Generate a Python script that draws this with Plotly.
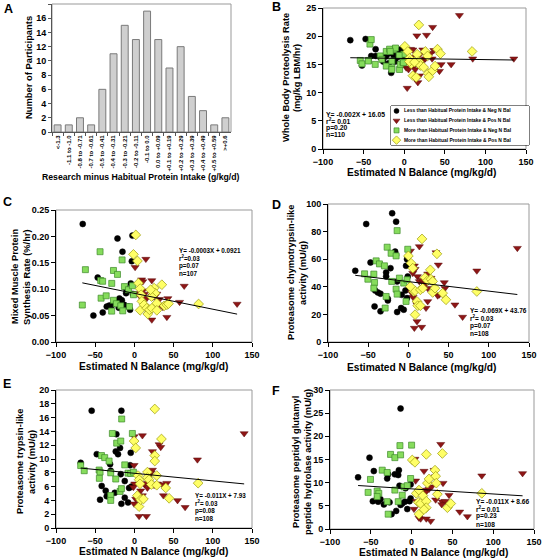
import plotly.graph_objects as go

W, H = 542, 559
FONT = "Liberation Sans, Arial, sans-serif"

# ---------------- Panel A data ----------------
hist_categories = ["<-1.3", "-1.1 to -1.0", "-0.8 to -0.71", "-0.7 to -0.61", "-0.5 to -0.41",
                   "-0.4 to -0.31", "-0.3 to -0.21", "-0.2 to -0.11", "-0.1 to 0.0", "0.0 to +0.09",
                   "+0.1 to +0.19", "+0.2 to +0.29", "+0.3 to +0.39", "+0.4 to +0.49", "+0.5 to +0.59", ">+0.6"]
hist_counts = [1, 1, 2, 1, 6, 11, 15, 13, 17, 13, 9, 12, 5, 3, 1, 2]

group_names = [
    "Less than Habitual Protein Intake & Neg N Bal",
    "Less than Habitual Protein Intake & Pos N Bal",
    "More than Habitual Protein Intake & Neg N Bal",
    "More than Habitual Protein Intake & Pos N Bal",
]

# ---------------- Panel B: whole body proteolysis ----------------
b_less_neg = [(-66.4, 19.3), (-47.5, 19.5), (-52, 14.8), (-40.6, 16.5), (-35.2, 17.7), (-35, 16.5),
              (-29, 16.2), (-25.8, 15.5), (-22.5, 16.4), (-20, 16.9), (-19, 15.2), (-16, 13.5), (-15, 17.0),
              (-11, 15.5), (-7.8, 16.3), (-5.7, 17.3), (-3.7, 17.7), (-2.5, 16.8), (-1.6, 16.4),
              (-9, 17.0), (-13, 16.6)]
b_less_pos = [(68, 23.7), (27.5, 20.2), (35, 21.6), (3.7, 10.8), (16.8, 11.8), (18.8, 13.0), (57.8, 15.0),
              (43.4, 13.8), (45.5, 15.0), (84.4, 16.0), (135, 16.0), (2.5, 14.4), (5.3, 14.1), (7.8, 17.7),
              (10.6, 17.6), (12, 14.7), (13.5, 14.1), (22.9, 17.6), (24, 15.8), (26, 16.0), (33, 17.0),
              (36.5, 17.5), (34.4, 16.0), (9, 16.3), (-0.4, 15.0), (15.6, 20.1), (19, 16.7)]
b_more_neg = [(-54.1, 15.7), (-52, 15.1), (-43.9, 15.7), (-42.2, 18.6), (-40.6, 19.4), (-35.7, 15.0),
              (-29.5, 16.5), (-22.1, 14.7), (-22.1, 17.3), (-15.2, 14.4), (-15.2, 14.1), (-12.7, 17.6),
              (-5.7, 14.1), (-4.9, 15.0), (-10.7, 17.9), (-18, 17.7), (-1.6, 15.4), (-0.4, 16.8),
              (-44.3, 15.6), (-27.5, 15.9), (-17.2, 17.3), (-15.2, 15.6), (-6.2, 16.6), (-0.9, 15.3)]
b_more_pos = [(18, 22.0), (0.8, 18.2), (4.5, 17.3), (6.5, 16.1), (8.6, 15.1), (10.7, 13.0), (14.8, 12.7),
              (16, 16.8), (18, 15.5), (20, 14.8), (24, 14.5), (26, 17.3), (28.8, 16.5), (29.5, 13.4),
              (30.3, 12.8), (35, 13.9), (38, 14.7), (41, 17.7), (44.7, 16.9), (83.6, 17.3), (6.5, 15.5),
              (12.7, 15.4)]

# ---------------- Panel C: muscle protein synthesis ----------------
c_less_neg = [(-65.9, 0.2235), (-21.6, 0.196), (-15.2, 0.171), (-2.5, 0.2015), (-46.8, 0.122), (-3.3, 0.153),
              (-52.3, 0.050), (-40.4, 0.056), (-35.3, 0.067), (-32, 0.069), (-28.9, 0.069), (-24.6, 0.075),
              (-19.1, 0.0825), (-16, 0.079), (-13.1, 0.0705), (-10.6, 0.0925), (-7.6, 0.067), (-5.5, 0.061),
              (-4.6, 0.111), (-2, 0.091), (-11, 0.102), (-20, 0.065)]
c_less_pos = [(0.9, 0.1415), (9.2, 0.118), (14.6, 0.157), (10.7, 0.1145), (22.2, 0.1165), (4.1, 0.0925),
              (7.3, 0.086), (12.9, 0.091), (15.8, 0.083), (22.2, 0.0875), (23.5, 0.085), (25.2, 0.086),
              (28.6, 0.091), (32, 0.081), (36.3, 0.066), (42.7, 0.0825), (57.6, 0.0755), (35.3, 0.069),
              (33.2, 0.070), (63.5, 0.106), (22.2, 0.042), (41.4, 0.047), (131, 0.072), (10.7, 0.097)]
c_more_neg = [(-66.4, 0.070), (-62.5, 0.137), (-43.8, 0.171), (-43, 0.1165), (-40.5, 0.115), (-42.5, 0.083),
              (-36, 0.0875), (-28.9, 0.111), (-26.7, 0.1355), (-21.6, 0.128), (-26.7, 0.079), (-29, 0.0585),
              (-23, 0.0725), (-15.7, 0.1555), (-12.7, 0.105), (-17.4, 0.0685), (-14.9, 0.059), (-7.6, 0.099),
              (-6.3, 0.067), (-2.5, 0.1065), (-1.2, 0.0895)]
c_more_pos = [(1.8, 0.2028), (-1.2, 0.166), (3.9, 0.1535), (5.2, 0.1115), (7.3, 0.101), (8.5, 0.0895),
              (9.5, 0.077), (7.3, 0.060), (12.4, 0.0705), (15.8, 0.064), (17.1, 0.053), (19.2, 0.061),
              (22.4, 0.064), (25.2, 0.102), (26.4, 0.0925), (28.6, 0.0735), (28.6, 0.060), (35, 0.1085),
              (38, 0.0685), (41.4, 0.0705), (43.5, 0.0725), (81.9, 0.072), (21.9, 0.086), (20.6, 0.099)]

# ---------------- Panel D: chymotrypsin-like ----------------
d_less_neg = [(-66.1, 51.6), (-52.5, 85.5), (-47.1, 57.6), (-41.3, 37.3), (-38, 35.9), (-34.7, 35),
              (-42.1, 25.8), (-34.7, 22.2), (-27.7, 47.5), (-27.7, 50.4), (-25.6, 31.3), (-25.6, 30.1),
              (-22.3, 53.5), (-20.2, 93.3), (-15.3, 87.2), (-16.5, 65.5), (-15.3, 63), (-14, 43.9),
              (-14, 21.7), (-9.1, 24.6), (-5.8, 23.4), (-2.9, 55.2), (-1.7, 60), (-0.8, 47.5), (-3.7, 37.3),
              (-1.7, 31.8), (-8.3, 34.2)]
d_less_pos = [(2.5, 66), (13.6, 69.2), (34.3, 64.8), (37.2, 55.9), (7.4, 55.2), (8.3, 52.8), (5.4, 49.9),
              (11.2, 47.5), (13.6, 43.9), (16.5, 45), (19, 42.7), (20.7, 41.4), (24, 49.4), (24, 39),
              (28.1, 46.3), (38.4, 34.2), (36.4, 33.5), (44.6, 43.1), (45.5, 39), (3.7, 35.9), (5.8, 32.5),
              (9.9, 28.2), (10.7, 27), (24, 29.4), (21.9, 24.6), (10.7, 14.9), (7.4, 10.1), (16.5, 10.8),
              (57.9, 27), (67.4, 18.1), (85.1, 51.6), (135.5, 68)]
d_more_neg = [(-54.5, 49.4), (-50.4, 45.5), (-43, 49.2), (-42.1, 43.1), (-43, 39), (-40.1, 58.8), (-36, 56.6),
              (-29.8, 55.2), (-27.7, 33), (-28.9, 24.6), (-26.4, 68.7), (-21.5, 64.3), (-20.7, 43.9),
              (-15.3, 62.4), (-14, 80.7), (-15.3, 38.3), (-14, 34.7), (-11.2, 46.3), (-5.8, 42.7),
              (-2.9, 29.4), (-1.7, 45.1), (-0.8, 67.2)]
d_more_pos = [(16.9, 74.7), (35.5, 63.9), (0, 62.4), (3.3, 57.1), (5.4, 53.5), (6.6, 36.6), (8.3, 37.1),
              (10.7, 29.4), (8.3, 19.8), (11.6, 26.3), (14.9, 26.3), (14.9, 37.8), (17.8, 39), (20.7, 46.7),
              (24, 44.6), (27.3, 52.3), (28.1, 45.5), (30.2, 43.9), (30.2, 35.9), (33.1, 39), (42.6, 35.4),
              (46.7, 30.6), (85.1, 36.6), (2.5, 40.2)]

# ---------------- Panel E: trypsin-like ----------------
e_less_neg = [(-68.5, 9.45), (-54.5, 17.0), (-48, 10.7), (-43.8, 4.1), (-41.7, 6.1), (-36.6, 5.4),
              (-35.3, 4.6), (-31, 9.25), (-30.2, 8.3), (-25, 5.1), (-23, 13.6), (-23.8, 11.1), (-20.9, 10.7),
              (-18.3, 11.6), (-16.6, 17.0), (-17.4, 7.8), (-16.6, 3.5), (-12.3, 6.8), (-12.3, 4.4),
              (-8.1, 3.7), (-5.5, 9.1), (-4.7, 10.9), (-3.8, 6.0), (-6.8, 5.8)]
e_less_pos = [(-0.4, 13.25), (10.2, 13.4), (23, 11.1), (31.5, 12.1), (33.6, 11.7), (-0.4, 9.1), (0.4, 6.4),
              (-1.3, 5.9), (1.7, 4.2), (-0.4, 3.5), (6, 1.7), (15.3, 1.7), (8, 5.4), (10.2, 4.7), (13, 6.3),
              (16.6, 6.5), (16.6, 5.8), (18.7, 7.5), (20.9, 8.0), (23, 8.4), (25.1, 6.2), (29.4, 6.4),
              (35.7, 6.3), (41.3, 6.5), (37, 4.7), (55, 4.0), (64.7, 3.0), (80.4, 9.9), (140, 13.7)]
e_more_neg = [(-68.5, 9.05), (-64, 8.3), (-45, 8.4), (-43.8, 8.1), (-44.7, 7.2), (-42, 10.5), (-37.9, 10.2),
              (-32.3, 9.7), (-30.2, 8.0), (-30.2, 4.7), (-30.2, 4.0), (-28.1, 13.7), (-23.8, 7.1),
              (-22.6, 12.3), (-18.3, 5.3), (-17.4, 12.6), (-16.2, 15.8), (-12.3, 9.15), (-16.6, 5.7),
              (-8.1, 7.95), (-4.7, 7.9), (-2.6, 13.7), (-1.3, 8.1)]
e_more_pos = [(26, 17.25), (-0.4, 12.6), (1.7, 11.6), (4.7, 7.6), (6, 7.0), (7.2, 6.4), (3.8, 4.7), (5.9, 3.1),
              (8, 4.1), (11.5, 4.2), (16.6, 8.1), (16.6, 7.3), (18.7, 7.0), (21.7, 6.3), (26, 10.5), (26, 9.7),
              (28.5, 7.6), (28.5, 6.2), (34.5, 12.9), (40, 5.8), (44.3, 4.3), (81.3, 6.5)]

# ---------------- Panel F: peptidyl glutamyl peptide hydrolase ----------------
f_less_neg = [(-65.6, 11.15), (-51.6, 15.4), (-46.3, 12.5), (-47.5, 6.0), (-42.2, 6.8), (-41, 5.9),
              (-38.1, 6.4), (-34, 5.3), (-29.9, 10.9), (-28.7, 11.8), (-27, 5.75), (-24.6, 3.2), (-20.5, 11.8),
              (-18.9, 3.9), (-16.4, 11.65), (-15.6, 12.7), (-13.5, 26.0), (-14.8, 9.35), (-13.5, 5.2),
              (-11.5, 5.5), (-8.2, 5.9), (-5.3, 4.3), (-2.5, 6.0), (-1.2, 6.6), (-1.2, 9.6), (-7.4, 8.8)]
f_less_pos = [(4.1, 15.1), (35.7, 18.3), (4.9, 10.4), (2.9, 4.3), (5.7, 6.0), (11.1, 2.2), (9, 2.4), (18, 2.2),
              (23.4, 1.7), (15.2, 12.5), (15.2, 8.4), (18, 8.1), (21.3, 8.6), (24.6, 9.1), (27.5, 12.7),
              (28.7, 11.3), (29.5, 6.3), (38.5, 9.9), (37.7, 5.9), (41, 6.0), (45.9, 7.3), (36.9, 5.3),
              (59, 3.7), (68.4, 2.7), (86, 11.5), (136, 12.0)]
f_more_neg = [(-53.3, 7.9), (-50.4, 10.7), (-42.2, 8.2), (-40.2, 7.7), (-42.2, 7.0), (-36, 12.7), (-29.9, 12.2),
              (-29.9, 5.9), (-28.7, 3.2), (-25.8, 16.1), (-20.5, 15.4), (-20.5, 8.4), (-14.3, 18.0),
              (-13.5, 16.0), (-16.4, 5.9), (-11.5, 7.3), (-9.4, 9.1), (-5.3, 9.35), (-1.2, 10.9), (0, 18.1)]
f_more_pos = [(0.8, 14.9), (4.1, 14.4), (18, 16.1), (37.7, 16.3), (5.7, 7.7), (9, 8.4), (8.2, 5.75), (9, 3.2),
              (11.1, 5.5), (13.9, 7.2), (18, 6.0), (18, 4.6), (19.3, 9.9), (21.3, 10.8), (28.7, 12.7),
              (29.5, 11.4), (30.3, 9.9), (31.6, 7.5), (43.9, 4.6), (48, 5.5), (86, 7.7), (15.2, 4.2)]

# regression results printed in each panel
reg_slopes = [-0.002, -0.0003, -0.069, -0.011, -0.011]
reg_intercepts = [16.05, 0.0921, 43.76, 7.93, 8.66]
stat_texts = [
    ["Y= -0.002X + 16.05", "r<sup>2</sup>= 0.01", "p=0.20", "n=110"],
    ["Y= -0.0003X + 0.0921", "r<sup>2</sup>=0.03", "p=0.07", "n=107"],
    ["Y= -0.069X + 43.76", "r<sup>2</sup>= 0.03", "p=0.07", "n=108"],
    ["Y= -0.011X + 7.93", "r<sup>2</sup>= 0.03", "p=0.08", "n=108"],
    ["Y= -0.011X + 8.66", "r<sup>2</sup>= 0.01", "p=0.23", "n=108"],
]
y_titles = [
    ["Whole Body Proteolysis Rate", "(mg/kg LBM/hr)"],
    ["Mixed Muscle Protein", "Synthesis Rate (%/hr)"],
    ["Proteasome chymotrypsin-like", "activity (mU/g)"],
    ["Proteasome trypsin-like", "activity (mU/g)"],
    ["Proteasome peptidyl glutamyl", "peptide hydrolase activity (mU/g)"],
]
y_ranges = [[0, 25], [0, 0.25], [0, 100], [0, 20], [0, 30]]
y_dticks = [5, 0.05, 20, 2, 5]
x_ticks = [-100, -50, 0, 50, 100, 150]

panel_groups = [
    [b_less_neg, b_less_pos, b_more_neg, b_more_pos],
    [c_less_neg, c_less_pos, c_more_neg, c_more_pos],
    [d_less_neg, d_less_pos, d_more_neg, d_more_pos],
    [e_less_neg, e_less_pos, e_more_neg, e_more_pos],
    [f_less_neg, f_less_pos, f_more_neg, f_more_pos],
]

# ---------------- styling ----------------
group_style = [
    dict(symbol="circle", color="black", line=dict(color="black", width=0.5), size=6),
    dict(symbol="triangle-down", color="#8e1616", line=dict(color="#5a0a0a", width=0.5), size=7),
    dict(symbol="square", color="#86dc5c", line=dict(color="#3e8a2a", width=0.7), size=6),
    dict(symbol="diamond", color="#ffff66", line=dict(color="#9a9a10", width=0.7), size=7.5),
]

def dx(a, b):
    return [a / W, b / W]

def dy(top, bottom):
    return [1 - bottom / H, 1 - top / H]

def px(x):
    return x / W

def py(y):
    return 1 - y / H

def text_ann(text, x, y, size, angle=0, xanchor="center"):
    return dict(text=text, x=px(x), y=py(y), xref="paper", yref="paper", xanchor=xanchor,
                yanchor="middle", textangle=angle, showarrow=False, font=dict(size=size))

# plot-area boxes in pixels: (left, right, top, bottom)
boxA = (52, 231, 4, 132)
scatter_boxes = [
    (323, 526, 8, 149),   # B
    (56, 252, 210, 342),  # C
    (328, 529, 204, 342), # D
    (56, 252, 390, 528),  # E
    (330, 534, 390, 529), # F
]
x_title_pos = [(421, 172.5), (153, 366), (421, 367), (153, 551.5), (433, 552)]
y_title_pos = [(286, 297, 78), (15, 27, 277), (291, 303, 273), (20, 32, 462), (296, 308, 462)]
# (left x, first-line y, line step, font size)
stat_pos = [(324, 114, 6.8, 6.8), (177, 250.5, 7.8, 6.3), (468, 310.5, 7.5, 6.5),
            (193, 495.5, 7.8, 6.3), (474, 501, 7.7, 6.6)]

tickfont = dict(family=FONT, size=9, color="black", weight="bold")

fig = go.Figure()
layout = dict(
    template="none",
    width=W, height=H, margin=dict(l=0, r=0, t=0, b=0, autoexpand=False),
    paper_bgcolor="white", plot_bgcolor="white", showlegend=False,
    font=dict(family=FONT, color="black"),
)
shapes = []
annotations = []

# ---------- Panel A ----------
fig.add_trace(go.Bar(x=hist_categories, y=hist_counts, xaxis="x", yaxis="y", width=0.62,
                     marker=dict(color="#cfcfcf", line=dict(color="#7a7a7a", width=1))))
layout["xaxis"] = dict(domain=dx(boxA[0], boxA[1]), anchor="y", type="category", automargin=False,
                       showline=True, linecolor="#555555", linewidth=1, ticks="outside", ticklen=3,
                       tickcolor="#555555", tickson="boundaries", tickangle=-90, showgrid=False,
                       tickfont=dict(family=FONT, size=6, color="black", weight="bold"))
layout["yaxis"] = dict(domain=dy(boxA[2], boxA[3]), anchor="x", range=[0, 18], dtick=2, automargin=False,
                       showline=True, linecolor="#555555", linewidth=1, ticks="outside", ticklen=3,
                       tickcolor="#555555", showgrid=False, zeroline=False, tickfont=tickfont)
shapes.append(dict(type="rect", xref="x domain", yref="y domain", x0=0, x1=1, y0=0, y1=1,
                   line=dict(color="#999999", width=1), layer="below"))
annotations.append(text_ann("<b>Number of Participants</b>", 28, 68, 9.4, angle=-90))
annotations.append(text_ann("<b>Research minus Habitual Protein Intake (g/kg/d)</b>", 141, 177, 8.7))

# ---------- scatter panels ----------
for i, groups in enumerate(panel_groups):
    n = i + 2
    xa, ya = f"x{n}", f"y{n}"
    L, R, T, B = scatter_boxes[i]
    for g, pts in enumerate(groups):
        st = group_style[g]
        fig.add_trace(go.Scatter(
            x=[p[0] for p in pts], y=[p[1] for p in pts], mode="markers", xaxis=xa, yaxis=ya,
            name=group_names[g],
            marker=dict(symbol=st["symbol"], color=st["color"], line=st["line"], size=st["size"])))
    allx = [p[0] for grp in groups for p in grp]
    xs = [min(allx), max(allx)]
    fig.add_trace(go.Scatter(x=xs, y=[reg_slopes[i] * v + reg_intercepts[i] for v in xs], mode="lines",
                             xaxis=xa, yaxis=ya, line=dict(color="black", width=1)))
    layout[f"xaxis{n}"] = dict(domain=dx(L, R), anchor=ya, range=[-100, 150], tickvals=x_ticks,
                               automargin=False,
                               showline=True, linecolor="black", linewidth=1, ticks="outside", ticklen=4,
                               tickcolor="black", showgrid=False, zeroline=False, tickfont=tickfont)
    ykw = dict(domain=dy(T, B), anchor=xa, range=y_ranges[i], dtick=y_dticks[i], tick0=0, automargin=False,
               showline=True, linecolor="black", linewidth=1, ticks="outside", ticklen=4,
               tickcolor="black", showgrid=False, zeroline=False, tickfont=tickfont)
    if i == 1:
        ykw["tickformat"] = ".2f"
    layout[f"yaxis{n}"] = ykw
    shapes.append(dict(type="rect", xref=f"{xa} domain", yref=f"{ya} domain", x0=0, x1=1, y0=0, y1=1,
                       line=dict(color="#999999", width=1), layer="below"))
    tx, ty = x_title_pos[i]
    annotations.append(text_ann("<b>Estimated N Balance (mg/kg/d)</b>", tx, ty, 10.2))
    x1, x2, yy = y_title_pos[i]
    annotations.append(text_ann("<b>" + y_titles[i][0] + "</b>", x1, yy, 9.3, angle=-90))
    annotations.append(text_ann("<b>" + y_titles[i][1] + "</b>", x2, yy, 9.3, angle=-90))
    sx, sy, step, fs = stat_pos[i]
    for k, t in enumerate(stat_texts[i]):
        annotations.append(text_ann("<b>" + t + "</b>", sx, sy + k * step, fs, xanchor="left"))

# ---------- legend in panel B (manual, compact) ----------
leg = (391, 529, 106, 145)
layout["xaxis7"] = dict(domain=dx(leg[0], leg[1]), anchor="y7", range=[0, 1], visible=False, automargin=False)
layout["yaxis7"] = dict(domain=dy(leg[2], leg[3]), anchor="x7", range=[4, 0], visible=False, automargin=False)
for g in range(4):
    st = group_style[g]
    fig.add_trace(go.Scatter(x=[0.04], y=[g + 0.5], mode="markers", xaxis="x7", yaxis="y7",
                             marker=dict(symbol=st["symbol"], color=st["color"], line=st["line"],
                                         size=st["size"] - 1)))
    annotations.append(dict(text="<b>" + group_names[g] + "</b>", x=0.08, y=g + 0.5, xref="x7", yref="y7",
                            xanchor="left", yanchor="middle", showarrow=False, font=dict(size=4.9)))
shapes.append(dict(type="rect", xref="paper", yref="paper", x0=px(leg[0]), x1=px(leg[1]),
                   y0=py(leg[3]), y1=py(leg[2]), line=dict(color="black", width=1), fillcolor="white",
                   layer="below"))

# ---------- panel letters ----------
for letter, (lx, ly) in zip("ABCDEF", [(8, 9), (276, 7), (7, 202), (276, 205), (7, 384), (276, 391)]):
    annotations.append(text_ann(f"<b>{letter}</b>", lx, ly, 12.5))

layout["shapes"] = shapes
layout["annotations"] = annotations
fig.update_layout(**layout)
fig.write_html("out.html", config={"displayModeBar": False},
               post_script="document.body.style.margin='0px';")
